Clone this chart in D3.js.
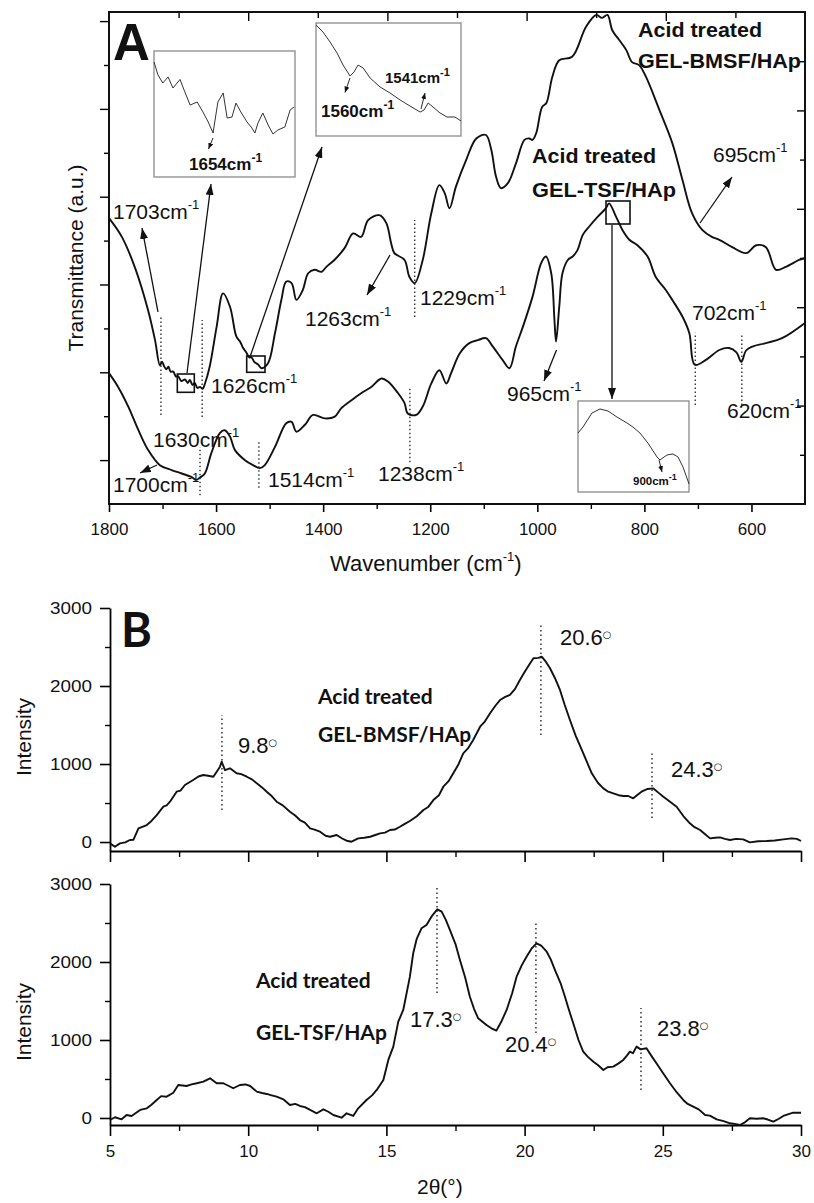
<!DOCTYPE html>
<html><head><meta charset="utf-8">
<script src="https://cdn.jsdelivr.net/npm/d3@7"></script>
<style>body{margin:0;background:#fff}svg{display:block}</style>
</head><body>
<svg id="c" width="814" height="1203"></svg>
<script>
// ---------------- DATA ----------------
// Panel A: FTIR (wavenumber cm-1, transmittance a.u.)
const ftirBMSF = [[1800,58.1],[1776,54.3],[1752,48.2],[1727,39.4],[1714,33.3],[1705,28.2],[1701,28.9],[1697,28.0],[1693,27.4],[1689,27.9],[1685,26.9],[1680,26.9],[1675,25.9],[1671,26.0],[1665,25.0],[1658,25.3],[1653,24.6],[1649,25.2],[1644,24.2],[1640,24.6],[1635,23.6],[1630,23.8],[1625,23.4],[1621,24.4],[1612,27.9],[1599,36.0],[1587,42.8],[1574,40.1],[1562,34.0],[1555,33.0],[1550,31.8],[1544,30.9],[1538,29.8],[1534,29.8],[1528,28.8],[1522,28.4],[1515,27.6],[1503,28.6],[1490,34.7],[1478,41.5],[1469,45.2],[1459,44.9],[1450,41.5],[1438,43.5],[1428,46.9],[1416,47.6],[1403,47.2],[1394,48.2],[1379,49.6],[1360,52.0],[1344,55.0],[1329,54.3],[1316,57.7],[1295,58.7],[1282,57.1],[1273,53.0],[1267,51.0],[1248,49.6],[1239,46.2],[1229,44.9],[1214,49.6],[1198,59.1],[1183,64.8],[1173,63.2],[1164,60.1],[1152,64.5],[1133,69.9],[1114,74.3],[1096,75.0],[1086,72.0],[1077,66.5],[1068,64.2],[1055,65.2],[1040,69.2],[1024,74.0],[1015,74.3],[1009,74.0],[1002,75.4],[991,80.7],[983,81.5],[972,86.8],[959,90.2],[935,90.9],[909,97.0],[890,99.4],[879,98.8],[869,99.4],[860,96.3],[847,94.3],[834,92.3],[823,89.8],[810,89.2],[797,86.8],[772,80.1],[748,73.4],[729,65.9],[711,59.1],[692,55.7],[674,54.3],[660,53.7],[636,52.2],[610,51.0],[591,52.6],[573,52.2],[554,47.6],[536,48.2],[511,49.6],[500,50.0]];
const ftirTSF = [[1800,26.6],[1783,23.8],[1764,19.8],[1745,15.0],[1727,11.0],[1705,7.9],[1683,6.9],[1664,6.2],[1646,5.5],[1637,4.9],[1630,5.4],[1621,6.2],[1609,10.3],[1593,14.4],[1584,15.0],[1574,13.7],[1565,11.0],[1546,8.9],[1531,7.9],[1518,7.3],[1509,7.9],[1490,11.6],[1469,16.4],[1459,16.7],[1450,14.7],[1434,16.1],[1419,18.1],[1397,17.4],[1379,17.7],[1366,19.5],[1347,21.1],[1329,22.5],[1310,23.8],[1291,25.5],[1279,24.9],[1260,22.5],[1248,20.5],[1242,18.4],[1226,18.1],[1214,19.8],[1198,24.5],[1183,27.2],[1170,24.5],[1161,26.6],[1145,30.6],[1127,32.7],[1111,33.3],[1096,33.7],[1083,32.0],[1065,29.3],[1052,27.6],[1040,32.0],[1027,36.0],[1009,42.1],[993,48.9],[984,50.3],[974,46.9],[968,37.4],[965,33.0],[959,40.1],[953,46.9],[943,49.6],[934,50.3],[925,51.6],[915,54.7],[903,56.4],[887,58.4],[872,60.1],[866,61.1],[853,58.4],[841,55.7],[828,53.7],[813,52.6],[794,50.3],[779,46.2],[760,43.5],[748,41.5],[729,38.1],[716,34.7],[706,28.3],[685,29.3],[660,31.3],[642,31.7],[628,30.8],[619,28.9],[610,31.2],[598,32.0],[573,32.7],[543,33.7],[500,36.8]];
// insets (zoomed spectra)
const inset1Data = [[1673,91.3],[1672.1,81],[1671,74.6],[1669.8,79.4],[1668.7,70.6],[1667.1,77.4],[1666,67.5],[1664.8,57.1],[1663.2,59.5],[1661.9,51.6],[1660.7,43.7],[1659.6,34.9],[1658.5,59.5],[1657.3,66.7],[1656.4,46.8],[1655.3,47.6],[1654.4,58.7],[1653.3,51.6],[1651.9,43.7],[1650.8,38.9],[1650.1,34.9],[1649.4,42.9],[1648.3,50.8],[1647.1,41.3],[1646,34.1],[1644.9,37.3],[1643.3,39.7],[1642.1,53.2],[1641.2,55.6]];
const inset2Data = [[1580,98.2],[1577.1,92],[1574.2,83.2],[1571.3,73.5],[1568.8,62.8],[1565.9,53.1],[1564.3,56.6],[1562.6,62.8],[1560.5,60.2],[1557.6,51.3],[1553.5,43.4],[1549.4,38.1],[1545.2,31.9],[1541.1,26.5],[1536.9,21.2],[1535.3,23],[1533.6,29.2],[1531.6,25.7],[1528.7,20.4],[1525.8,16.8],[1522.5,16.8],[1520,13.3]];
const inset3Data = [[940,64.8],[934.6,71.4],[924.9,86.8],[916.2,91.2],[907.6,89],[897.9,82.4],[887,75.8],[880.6,71.4],[873,64.8],[864.4,53.8],[854.6,38.5],[851.4,35.2],[843.8,40.7],[837.3,41.8],[831.9,38.5],[826.5,27.5],[820,8.8]];
const ftirTicksMajor = [1800,1600,1400,1200,1000,800,600];
const ftirTicksMinor = [1700,1500,1300,1100,900,700];
// dotted peak markers: [wavenumber, from a.u., to a.u.]
const ftirPeakLines = [[1703,18.1,38.0],[1626,17.7,37.4],[1630,1.8,11.6],[1520,3.3,12.6],[1238,8.5,23.8],[1229,38.0,57.7],[705,20.1,34.8],[618,20.1,34.3]];

// Panel B: XRD (2theta, intensity)
const xrdBMSF = [[5.0,-17],[5.18,-60],[5.36,-17],[5.55,-5],[5.72,26],[5.85,30],[6.03,175],[6.33,218],[6.5,270],[6.69,346],[6.93,453],[7.05,470],[7.17,517],[7.41,645],[7.55,660],[7.71,731],[8.01,795],[8.2,840],[8.38,859],[8.55,850],[8.74,837],[8.98,966],[9.04,1030],[9.16,923],[9.34,945],[9.58,881],[9.75,870],[9.95,837],[10.15,800],[10.31,752],[10.5,700],[10.67,645],[10.85,590],[11.03,517],[11.25,470],[11.51,389],[11.7,340],[11.87,282],[12.05,250],[12.24,175],[12.4,160],[12.60,132],[12.8,80],[12.96,68],[13.20,90],[13.4,45],[13.56,17],[13.74,4],[13.98,47],[14.2,55],[14.41,68],[14.6,90],[14.77,111],[14.95,120],[15.13,154],[15.3,160],[15.49,196],[15.65,230],[15.85,270],[16.1,330],[16.34,410],[16.5,445],[16.70,538],[16.9,600],[17.06,709],[17.25,780],[17.42,881],[17.6,990],[17.78,1137],[17.95,1200],[18.14,1308],[18.39,1478],[18.55,1540],[18.75,1650],[18.95,1750],[19.11,1820],[19.3,1860],[19.47,1885],[19.65,1960],[19.83,2077],[20.0,2180],[20.20,2291],[20.32,2355],[20.5,2360],[20.62,2376],[20.75,2320],[20.92,2227],[21.1,2100],[21.28,1949],[21.45,1760],[21.64,1564],[21.85,1360],[22.07,1180],[22.25,1030],[22.43,881],[22.65,760],[22.85,688],[23.0,650],[23.21,624],[23.4,600],[23.57,590],[23.75,590],[23.93,560],[24.1,610],[24.23,645],[24.45,680],[24.65,688],[24.85,630],[25.02,581],[25.25,520],[25.50,453],[25.75,330],[25.98,240],[26.15,190],[26.35,154],[26.5,110],[26.71,47],[26.9,55],[27.07,60],[27.25,40],[27.43,26],[27.65,40],[27.91,34],[28.15,-4],[28.45,10],[28.76,13],[29.05,20],[29.36,34],[29.66,47],[29.85,40],[30.0,13]];
const xrdTSF = [[5.0,-26],[5.18,9],[5.42,-17],[5.60,38],[5.78,26],[6.09,103],[6.33,124],[6.5,170],[6.69,231],[6.85,280],[7.05,273],[7.29,324],[7.47,423],[7.77,410],[7.95,430],[8.14,445],[8.38,466],[8.62,509],[8.86,445],[9.10,445],[9.3,410],[9.46,381],[9.70,423],[9.9,430],[10.07,410],[10.31,338],[10.5,320],[10.67,308],[10.85,290],[11.03,273],[11.27,240],[11.51,167],[11.7,180],[11.87,154],[12.05,140],[12.24,103],[12.48,60],[12.72,111],[12.9,80],[13.08,38],[13.38,4],[13.56,60],[13.80,26],[13.98,124],[14.28,231],[14.48,290],[14.65,359],[14.89,487],[15.07,744],[15.25,915],[15.43,1235],[15.61,1385],[15.85,1812],[15.97,2112],[16.1,2300],[16.27,2432],[16.45,2474],[16.63,2581],[16.84,2675],[17.0,2645],[17.15,2540],[17.30,2410],[17.5,2230],[17.66,2026],[17.85,1800],[18.02,1555],[18.17,1400],[18.32,1278],[18.62,1192],[18.8,1150],[18.98,1120],[19.15,1230],[19.35,1385],[19.55,1600],[19.71,1812],[19.9,1960],[20.07,2068],[20.25,2170],[20.43,2240],[20.6,2210],[20.80,2132],[20.95,2030],[21.10,1897],[21.3,1730],[21.46,1555],[21.6,1390],[21.76,1214],[21.95,1000],[22.12,851],[22.3,780],[22.49,722],[22.65,680],[22.85,615],[23.0,650],[23.21,658],[23.4,700],[23.57,744],[23.7,800],[23.81,851],[23.92,830],[24.05,915],[24.2,880],[24.41,894],[24.6,790],[24.77,701],[25.0,580],[25.26,445],[25.5,330],[25.74,231],[25.9,180],[26.10,145],[26.3,110],[26.53,38],[26.7,30],[26.95,-17],[27.2,-40],[27.43,-68],[27.6,-75],[27.79,-90],[27.95,-60],[28.15,-4],[28.4,-10],[28.63,-4],[28.8,-20],[29.0,-47],[29.2,-10],[29.36,26],[29.55,50],[29.72,68],[30.0,68]];
const xrdTicksMajor = [5,10,15,20,25,30];
const xrdTicksMinor = [7.5,12.5,17.5,22.5,27.5];
const intensityTicksMajor = [0,1000,2000,3000];
const intensityTicksMinor = [500,1500,2500];
// dotted peak markers: [2theta, from, to]
const xrdPeakLinesTop = [[9.05,410,1628],[20.59,1372,2782],[24.61,308,1154]];
const xrdPeakLinesBottom = [[16.83,1603,2949],[20.41,1090,2513],[24.21,359,1410]];

// ---------------- DRAW ----------------
const svg = d3.select('#c');
const SANS = '"Liberation Sans", Arial, sans-serif';
const CAL = 'Lato, "Liberation Sans", sans-serif';

const defs = svg.append('defs');
function mk(id, w, h){
  defs.append('marker').attr('id',id).attr('viewBox',`0 0 ${w} ${h}`)
    .attr('refX',w).attr('refY',h/2).attr('markerWidth',w).attr('markerHeight',h)
    .attr('markerUnits','userSpaceOnUse').attr('orient','auto')
    .append('path').attr('d',`M0,0L${w},${h/2}L0,${h}Z`).attr('fill','#111');
}
mk('ah',11,8); mk('ahs',6,5);

function arrow(x1,y1,x2,y2,small){
  svg.append('line').attr('x1',x1).attr('y1',y1).attr('x2',x2).attr('y2',y2)
    .attr('stroke','#111').attr('stroke-width',small?0.9:1.3)
    .attr('marker-end',`url(#${small?'ahs':'ah'})`);
}
function supLabel(x,y,base,sup,size,bold,supSize,raise){
  const t = svg.append('text').attr('x',x).attr('y',y)
    .attr('font-family',SANS).attr('font-size',size).attr('fill','#111')
    .attr('font-weight',bold?'bold':'normal').text(base);
  t.append('tspan').attr('dy',-raise).attr('font-size',supSize).text(sup);
  return t;
}

// ===== Panel A =====
const xA = d3.scaleLinear().domain([1800,500]).range([109,805]);
const yA = d3.scaleLinear().domain([0,100]).range([504,12]);
const gA = svg.append('g');

// bottom axis
const axB = gA.append('g').attr('transform','translate(0,504)')
  .call(d3.axisBottom(xA).tickValues(ftirTicksMajor).tickSize(8).tickPadding(11).tickFormat(d3.format('d')));
axB.select('.domain').remove();
axB.selectAll('text').attr('font-family',SANS).attr('font-size',17).attr('fill','#111');
axB.selectAll('line').attr('stroke-width',1.6);
const axBm = gA.append('g').attr('transform','translate(0,504)')
  .call(d3.axisBottom(xA).tickValues(ftirTicksMinor).tickSize(5).tickFormat(''));
axBm.select('.domain').remove(); axBm.selectAll('line').attr('stroke-width',1.4);

// decorative tick marks on other sides (no labels)
const topT = d3.scaleLinear().domain([0,10]).range([109,805]);
[[d3.range(2,10,2),9],[d3.range(1,10,2),6]].forEach(([v,s])=>{
  const a = gA.append('g').attr('transform','translate(0,12)')
    .call(d3.axisBottom(topT).tickValues(v).tickSize(s).tickFormat(''));
  a.select('.domain').remove(); a.selectAll('line').attr('stroke-width',1.4);
});
const rightT = d3.scaleLinear().domain([0,10]).range([504,12]);
[[d3.range(2,10,2),8],[d3.range(1,10,2),5]].forEach(([v,s])=>{
  const a = gA.append('g').attr('transform','translate(805,0)')
    .call(d3.axisLeft(rightT).tickValues(v).tickSize(s).tickFormat(''));
  a.select('.domain').remove(); a.selectAll('line').attr('stroke-width',1.4);
});
const leftT = d3.scaleLinear().domain([0,11]).range([504,21.1]);
[[d3.range(1,12,2),9],[d3.range(2,12,2),5]].forEach(([v,s])=>{
  const a = gA.append('g').attr('transform','translate(109,0)')
    .call(d3.axisLeft(leftT).tickValues(v).tickSize(s).tickFormat(''));
  a.select('.domain').remove(); a.selectAll('line').attr('stroke-width',1.4);
});
// frame
gA.append('rect').attr('x',109).attr('y',12).attr('width',696).attr('height',492)
  .attr('fill','none').attr('stroke','#111').attr('stroke-width',2);

// curves
const lineA = d3.line().x(d=>xA(d[0])).y(d=>yA(d[1])).curve(d3.curveCatmullRom.alpha(0.5));
gA.append('path').datum(ftirBMSF).attr('d',lineA).attr('fill','none').attr('stroke','#111').attr('stroke-width',1.9);
gA.append('path').datum(ftirTSF).attr('d',lineA).attr('fill','none').attr('stroke','#111').attr('stroke-width',1.9);

// dotted markers
gA.selectAll('.pl').data(ftirPeakLines).join('line')
  .attr('x1',d=>xA(d[0])).attr('x2',d=>xA(d[0])).attr('y1',d=>yA(d[1])).attr('y2',d=>yA(d[2]))
  .attr('stroke','#222').attr('stroke-width',1.3).attr('stroke-dasharray','1.5,2.5');

// axis titles
svg.append('text').attr('transform','translate(83,258) rotate(-90)').attr('text-anchor','middle')
  .attr('font-family',SANS).attr('font-size',21).attr('fill','#111').text('Transmittance (a.u.)');
{
  const t = svg.append('text').attr('x',330).attr('y',571).attr('font-family',SANS).attr('font-size',22).attr('fill','#111').text('Wavenumber (cm');
  t.append('tspan').attr('dy',-10).attr('font-size',13).text('-1');
  t.append('tspan').attr('dy',10).text(')');
}
svg.append('text').attr('x',113).attr('y',60).attr('font-family',SANS).attr('font-weight','bold')
  .attr('font-size',51).attr('fill','#111').text('A');

// insets
function inset(data, dom, bx, by, bw, bh){
  svg.append('rect').attr('x',bx).attr('y',by).attr('width',bw).attr('height',bh)
    .attr('fill','#fff').attr('stroke','#8a8a8a').attr('stroke-width',1.3);
  const sx = d3.scaleLinear().domain(dom).range([bx,bx+bw]);
  const sy = d3.scaleLinear().domain([0,100]).range([by+bh,by]);
  svg.append('path').datum(data).attr('d',d3.line().x(d=>sx(d[0])).y(d=>sy(d[1])))
    .attr('fill','none').attr('stroke','#333').attr('stroke-width',1);
}
inset(inset1Data,[1673,1641],154,51,141,126);
inset(inset2Data,[1580,1520],316,23,145,113);
inset(inset3Data,[940,820],578,401,111,91);
supLabel(189,170,'1654cm','-1',17,true,12,8);
supLabel(321,117,'1560cm','-1',17,true,12,8);
supLabel(385,83,'1541cm','-1',15,true,11,7);
supLabel(633,485,'900cm','-1',11.5,true,9,5);
arrow(213,138,208.5,149,true);
arrow(350,78,345,92.5,true);
arrow(421,109,425,93,true);
arrow(659,460,662,472,true);

// small boxes
[[177.3,374,17,18.3],[246.7,356,18.3,16.3],[606,201,24,23]].forEach(b=>{
  svg.append('rect').attr('x',b[0]).attr('y',b[1]).attr('width',b[2]).attr('height',b[3])
    .attr('fill','none').attr('stroke','#111').attr('stroke-width',1.6);
});
arrow(187,373,211,184);
arrow(250,357,322,147);
arrow(612,225,612,399);
arrow(158,312,142,228);
arrow(157,465,140,473);
arrow(390,255,367,295);
arrow(556.5,350,544,381);
arrow(700,223,732,177);

// labels
const A_SZ = 21, A_SUP = 13;
supLabel(113,219,'1703cm','-1',A_SZ,false,A_SUP,10);
supLabel(211,393,'1626cm','-1',A_SZ,false,A_SUP,10);
supLabel(305,326,'1263cm','-1',A_SZ,false,A_SUP,10);
supLabel(153,447,'1630cm','-1',A_SZ,false,A_SUP,10);
supLabel(113,492,'1700cm','-1',A_SZ,false,A_SUP,10);
supLabel(268,487,'1514cm','-1',A_SZ,false,A_SUP,10);
supLabel(378,481,'1238cm','-1',A_SZ,false,A_SUP,10);
supLabel(420,305,'1229cm','-1',A_SZ,false,A_SUP,10);
supLabel(507,401,'965cm','-1',A_SZ,false,A_SUP,10);
supLabel(692,320,'702cm','-1',A_SZ,false,A_SUP,10);
supLabel(727,418,'620cm','-1',A_SZ,false,A_SUP,10);
supLabel(713,162,'695cm','-1',A_SZ,false,A_SUP,10);
function boldText(x,y,s,size,fam,len){
  const t = svg.append('text').attr('x',x).attr('y',y).attr('font-family',fam||SANS).attr('font-weight','bold')
    .attr('font-size',size).attr('fill','#111').text(s);
  if(len) t.attr('textLength',len).attr('lengthAdjust','spacingAndGlyphs');
}
boldText(638,37,'Acid treated',20,SANS,124);
boldText(638,68,'GEL-BMSF/HAp',20,SANS,163);
boldText(532,163,'Acid treated',20,SANS,124);
boldText(532,197,'GEL-TSF/HAp',20,SANS,144);

// ===== Panel B =====
const xB = d3.scaleLinear().domain([5,30]).range([110,801]);
const yB1 = d3.scaleLinear().domain([-115,3000]).range([851,608]);
const yB2 = d3.scaleLinear().domain([-90,3000]).range([1125,884]);
const lineB = (ys)=>d3.line().x(d=>xB(d[0])).y(d=>ys(d[1]));

function xrdPanel(ys, yAxisY, data, peaks, showX, ylabY){
  const g = svg.append('g');
  // left axis
  const la = g.append('g').attr('transform','translate(110,0)')
    .call(d3.axisLeft(ys).tickValues(intensityTicksMajor).tickSize(10).tickSizeOuter(0).tickPadding(8).tickFormat(d3.format('d')));
  la.selectAll('text').attr('font-family',SANS).attr('font-size',16).attr('fill','#111')
    .attr('textLength',function(){return this.textContent.length*10.5;}).attr('lengthAdjust','spacingAndGlyphs');
  la.selectAll('line').attr('stroke-width',1.6);
  la.select('.domain').attr('stroke-width',1.8);
  const lm = g.append('g').attr('transform','translate(110,0)')
    .call(d3.axisLeft(ys).tickValues(intensityTicksMinor).tickSize(5).tickFormat(''));
  lm.select('.domain').remove(); lm.selectAll('line').attr('stroke-width',1.4);
  // bottom axis
  const ba = g.append('g').attr('transform',`translate(0,${yAxisY})`)
    .call(d3.axisBottom(xB).tickValues(xrdTicksMajor).tickSize(11).tickSizeOuter(0).tickPadding(9)
      .tickFormat(showX? d3.format('d') : ''));
  ba.selectAll('text').attr('font-family',SANS).attr('font-size',17).attr('fill','#111');
  ba.selectAll('line').attr('stroke-width',1.6);
  ba.select('.domain').attr('stroke-width',1.8);
  const bm = g.append('g').attr('transform',`translate(0,${yAxisY})`)
    .call(d3.axisBottom(xB).tickValues(xrdTicksMinor).tickSize(6).tickFormat(''));
  bm.select('.domain').remove(); bm.selectAll('line').attr('stroke-width',1.4);
  // curve
  g.append('path').datum(data).attr('d',lineB(ys)).attr('fill','none').attr('stroke','#111').attr('stroke-width',1.9)
    .attr('stroke-linejoin','round');
  // peaks
  g.selectAll('.pk').data(peaks).join('line')
    .attr('x1',d=>xB(d[0])).attr('x2',d=>xB(d[0])).attr('y1',d=>ys(d[1])).attr('y2',d=>ys(d[2]))
    .attr('stroke','#222').attr('stroke-width',1.4).attr('stroke-dasharray','1.5,3');
  // y label
  svg.append('text').attr('transform',`translate(31,${ylabY}) rotate(-90)`).attr('text-anchor','middle')
    .attr('font-family',SANS).attr('font-size',21).attr('fill','#111').text('Intensity');
}
xrdPanel(yB1, 851, xrdBMSF, xrdPeakLinesTop, false, 737);
xrdPanel(yB2, 1125, xrdTSF, xrdPeakLinesBottom, true, 1022);

svg.append('text').attr('x',121).attr('y',647).attr('font-family',CAL).attr('font-weight','bold')
  .attr('font-size',47).attr('fill','#111').text('B');

function degLabel(x,y,s){
  const t = svg.append('text').attr('x',x).attr('y',y).attr('font-family',SANS).attr('font-size',22).attr('fill','#111').text(s);
  t.append('tspan').attr('dx',0).attr('dy',-7.5).attr('font-family','"DejaVu Sans", sans-serif').attr('font-size',10).text('○');
}
degLabel(238,753,'9.8');
degLabel(560,645,'20.6');
degLabel(671,777,'24.3');
degLabel(410,1027,'17.3');
degLabel(505,1052,'20.4');
degLabel(657,1036,'23.8');

boldText(318,704,'Acid treated',21,CAL);
boldText(318,742,'GEL-BMSF/HAp',21,CAL);
boldText(256,988,'Acid treated',21,CAL);
boldText(256,1040,'GEL-TSF/HAp',21,CAL);

svg.append('text').attr('x',417).attr('y',1194).attr('font-family',SANS).attr('font-size',21).attr('fill','#111').text('2θ(°)');
</script>
</body></html>
